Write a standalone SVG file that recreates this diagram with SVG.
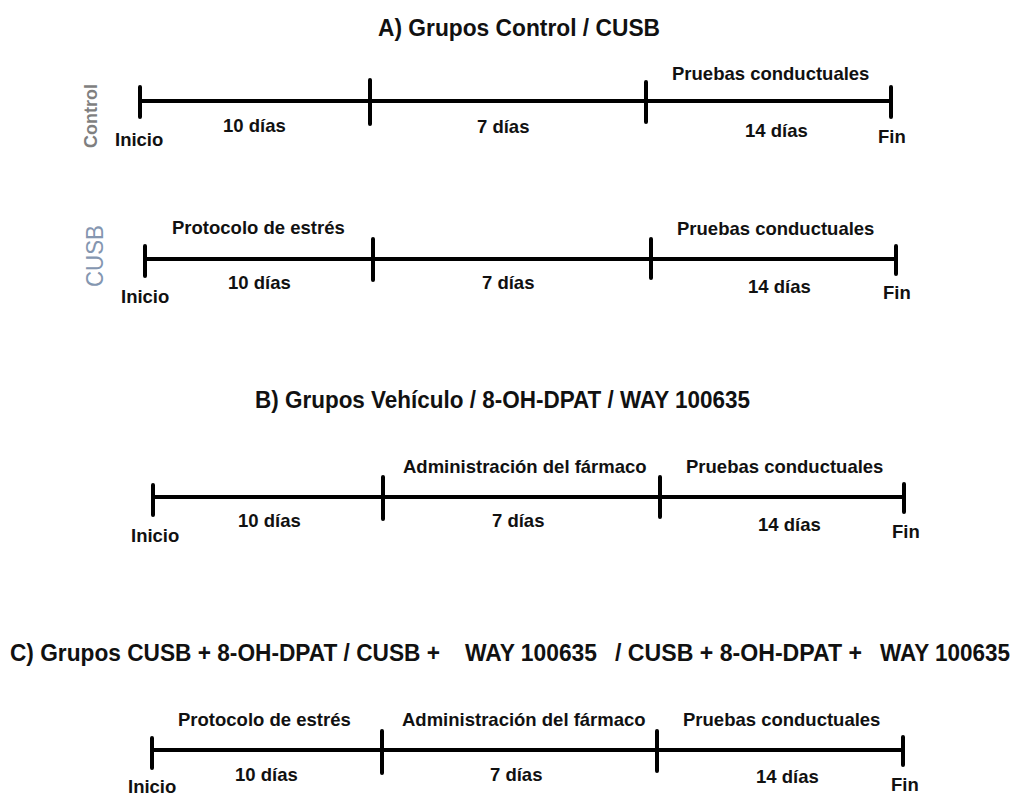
<svg xmlns="http://www.w3.org/2000/svg" width="1016" height="795" viewBox="0 0 1016 795">
<style>
.t{font-family:"Liberation Sans",Arial,sans-serif;font-weight:bold;font-size:18.5px;fill:#111}
.h{font-family:"Liberation Sans Narrow","Liberation Sans",Arial,sans-serif;font-weight:bold;font-size:23.5px;fill:#111}
.ln{stroke:#000;stroke-width:4;stroke-linecap:round;fill:none}
</style>
<rect width="1016" height="795" fill="#fff"/>
<g id="titles">
<text class="h" x="378" y="36" textLength="282" lengthAdjust="spacingAndGlyphs">A) Grupos Control / CUSB</text>
<text class="h" x="255" y="408" textLength="495" lengthAdjust="spacingAndGlyphs">B) Grupos Vehículo / 8-OH-DPAT /  WAY 100635</text>
<text class="h" x="10" y="661" textLength="430" lengthAdjust="spacingAndGlyphs">C) Grupos CUSB + 8-OH-DPAT / CUSB +</text>
<text class="h" x="465" y="661" textLength="132" lengthAdjust="spacingAndGlyphs">WAY 100635</text>
<text class="h" x="615" y="661" textLength="247" lengthAdjust="spacingAndGlyphs">/ CUSB + 8-OH-DPAT +</text>
<text class="h" x="880" y="661" textLength="130" lengthAdjust="spacingAndGlyphs">WAY 100635</text>
</g>
<g id="side-labels">
<text transform="translate(97,116) rotate(-90)" text-anchor="middle" style="font-family:'Liberation Sans',Arial,sans-serif;font-weight:bold;font-size:18px;fill:#7f7f7f">Control</text>
<text transform="translate(103,256) rotate(-90)" text-anchor="middle" textLength="62" lengthAdjust="spacingAndGlyphs" style="font-family:'Liberation Sans',Arial,sans-serif;font-size:24px;fill:#8496b0">CUSB</text>
</g>
<g id="connectors">
<path class="ln" d="M140 101H891M140 87V117M370 80V124M646 82V122M891 87V117"/>
<path class="ln" d="M145 259H896M145 246V276M373 239V280M651 239V278M896 246V274"/>
<path class="ln" d="M153 497H904M153 485V515M383 477V519M660 477V517M904 484V512"/>
<path class="ln" d="M152 750H903M152 738V768M382 731V773M657 731V771M903 737V765"/>
</g>
<g id="timeline-control">
<text class="t" x="672" y="80">Pruebas conductuales</text>
<text class="t" x="115" y="146">Inicio</text>
<text class="t" x="223" y="132">10 días</text>
<text class="t" x="477" y="133">7 días</text>
<text class="t" x="745" y="137">14 días</text>
<text class="t" x="878" y="143">Fin</text>
</g>
<g id="timeline-cusb">
<text class="t" x="172" y="234">Protocolo de estrés</text>
<text class="t" x="677" y="235">Pruebas conductuales</text>
<text class="t" x="121" y="303">Inicio</text>
<text class="t" x="228" y="289">10 días</text>
<text class="t" x="482" y="289">7 días</text>
<text class="t" x="748" y="293">14 días</text>
<text class="t" x="883" y="299">Fin</text>
</g>
<g id="timeline-b">
<text class="t" x="403" y="473">Administración del fármaco</text>
<text class="t" x="686" y="473">Pruebas conductuales</text>
<text class="t" x="131" y="542">Inicio</text>
<text class="t" x="238" y="527">10 días</text>
<text class="t" x="492" y="527">7 días</text>
<text class="t" x="758" y="531">14 días</text>
<text class="t" x="892" y="538">Fin</text>
</g>
<g id="timeline-c">
<text class="t" x="178" y="726">Protocolo de estrés</text>
<text class="t" x="402" y="726">Administración del fármaco</text>
<text class="t" x="683" y="726">Pruebas conductuales</text>
<text class="t" x="128" y="793">Inicio</text>
<text class="t" x="235" y="781">10 días</text>
<text class="t" x="490" y="781">7 días</text>
<text class="t" x="756" y="783">14 días</text>
<text class="t" x="891" y="791">Fin</text>
</g>
</svg>
